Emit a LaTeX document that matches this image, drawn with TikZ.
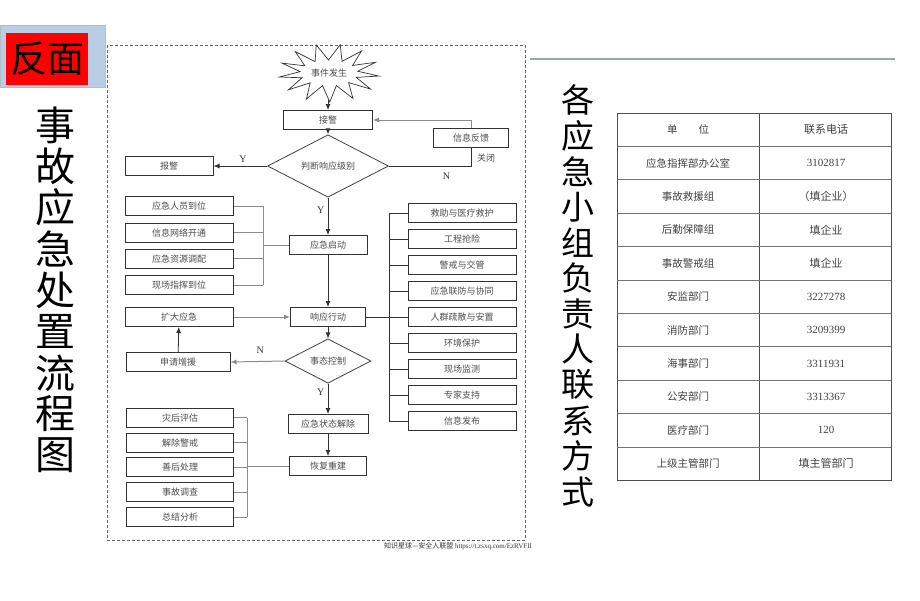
\documentclass[tikz,border=0pt]{standalone}
\usepackage{fontspec}
\setmainfont{Liberation Serif}
\newfontfamily\cjk{Noto Sans CJK SC}
\usetikzlibrary{arrows.meta, positioning, shapes.geometric}

\definecolor{barblue}{HTML}{B9CDE5}
\definecolor{rulegray}{HTML}{9AA89E}

\begin{document}
\begin{tikzpicture}[x=1pt,y=-1pt,>={Latex[length=6pt,width=5pt]},
  box/.style={draw=black!80,line width=1pt,minimum height=19,inner sep=1pt,
    font=\cjk\fontsize{9}{10}\selectfont,text=black!70},
  sbox/.style={box,minimum width=108},
  cbox/.style={box,minimum width=80},
  dec/.style={diamond,draw=black!75,line width=0.8pt,inner sep=0pt,
    font=\cjk\fontsize{9}{10}\selectfont,text=black!70},
  link/.style={draw=black!80,line width=0.8pt},
  glink/.style={draw=black!45,line width=1pt},
  lbl/.style={font=\fontsize{10}{12}\selectfont,text=black!80},
  cell/.style={font=\cjk\fontsize{10.5}{12}\selectfont,text=black!75},
  bigtitle/.style={font=\cjk\fontsize{40}{40}\selectfont,inner sep=0pt}]

\useasboundingbox (0,0) rectangle (920,600);

% 左上角 标题条
\fill[barblue,draw=barblue!70!black!60] (0,25) rectangle (105,87);
\node[fill=red,minimum width=82,minimum height=52,inner sep=0pt,
  font=\cjk\fontsize{37}{37}\selectfont] (fm) at (47,59) {反面};

% 竖排标题
\foreach \c [count=\i] in {事,故,应,急,处,置,流,程,图}
  \node[bigtitle] (tl\i) at (55,{84+41.25*\i}) {\c};
\foreach \c [count=\i] in {各,应,急,小,组,负,责,人,联,系,方,式}
  \node[bigtitle,font=\cjk\fontsize{33}{33}\selectfont] (tr\i) at (578,{64.4+35.6*\i}) {\c};

% 虚线框
\draw[black!60,line width=0.8pt,dash pattern=on 3pt off 2pt] (107,45) rectangle (525,540);

% 右上 横线
\draw[rulegray,line width=2pt] (530,59) -- (895,59);

% 事件发生 (爆炸形)
\draw[black!80,line width=0.7pt] plot[samples at={0,...,25}]
  ({329+ifthenelse(mod(\x,2)==0,50,29)*cos(\x*360/26+6)},
   {73+ifthenelse(mod(\x,2)==0,29,13)*sin(\x*360/26+6)}) -- cycle;
\node[font=\cjk\fontsize{9}{10}\selectfont,text=black!70] (evt) at (329,73) {事件发生};
\coordinate (evtb) at (328,100);

% 主流程
\node[box,minimum width=89] (jj) at (328,120) {接警};
\node[dec,minimum width=121,minimum height=45] (pd) at (328,166) {判断响应级别};
\node[box,minimum width=88] (bj) at (169,166) {报警};
\node[box,minimum width=75] (fk) at (471,138) {信息反馈};
\node[box,minimum width=78] (qd) at (328,245) {应急启动};
\node[box,minimum width=75] (xd) at (328,317) {响应行动};
\node[sbox] (kd) at (179,317) {扩大应急};
\node[dec,minimum width=86,minimum height=40] (kz) at (328,361) {事态控制};
\node[box,minimum width=104] (sq) at (178,362) {申请增援};
\node[cbox] (jc) at (328,424) {应急状态解除};
\node[box,minimum width=77] (hf) at (328,466) {恢复重建};

% 左侧 启动措施
\foreach \t [count=\i] in {应急人员到位,信息网络开通,应急资源调配,现场指挥到位}
  \node[sbox] (L\i) at (179,{180+26.3*\i}) {\t};
% 右侧 响应措施
\foreach \t [count=\i] in {救助与医疗救护,工程抢险,警戒与交管,应急联防与协同,人群疏散与安置,环境保护,现场监测,专家支持,信息发布}
  \node[sbox] (R\i) at (462,{187+26*\i}) {\t};
% 左下 恢复措施
\foreach \t [count=\i] in {灾后评估,解除警戒,善后处理,事故调查,总结分析}
  \node[sbox,minimum width=107] (B\i) at (180,{393+24.8*\i}) {\t};

% 连线
\draw[->,link] (evtb) -- (jj);
\draw[->,link] (jj) -- (pd);
\draw[->,link] (pd.west) -- (bj.east) node[lbl,pos=0.45,above] {Y};
\draw[->,link] (pd.south) -- (qd.north) node[lbl,pos=0.35,left] {Y};
\draw[link] (pd.east) -| (fk.south) node[lbl,pos=0.35,below=3pt] {N};
\node[font=\cjk\fontsize{9}{10}\selectfont,text=black!70] (gb) at (486,158) {关闭};
\draw[->,glink] (fk.north) |- (jj.east);
\draw[->,link] (qd) -- (xd);
\draw[->,glink] (kd) -- (xd);
\draw[->,link] (xd) -- (kz);
\draw[->,glink] (kz.west) -- (sq.east) node[lbl,pos=0.45,above=4pt] {N};
\draw[->,link] (sq) -- (kd);
\draw[->,link] (kz.south) -- (jc.north) node[lbl,pos=0.3,left] {Y};
\draw[->,link] (jc) -- (hf);

% 括号线
\coordinate (brA) at (263,0);
\coordinate (brB) at (389,0);
\coordinate (brC) at (247,0);
\draw[glink] (L1.east -| brA) -- (L4.east -| brA);
\foreach \i in {1,...,4} \draw[glink] (L\i.east) -- (L\i.east -| brA);
\draw[glink] (qd.west) -- (qd.west -| brA);
\draw[link] (R1.west -| brB) -- (R9.west -| brB);
\foreach \i in {1,...,9} \draw[link] (R\i.west -| brB) -- (R\i.west);
\draw[link] (xd.east) -- (xd.east -| brB);
\draw[glink] (B1.east -| brC) -- (B5.east -| brC);
\foreach \i in {1,...,5} \draw[glink] (B\i.east) -- (B\i.east -| brC);
\draw[glink] (hf.west) -- (hf.west -| brC);

% 联系方式表
\draw[black!70,line width=0.8pt] (617,113) rectangle (891,480);
\draw[black!70,line width=0.8pt] (759,113) -- (759,480);
\foreach \i in {1,...,10}
  \draw[black!55,line width=0.8pt] (617,{113+33.4*\i}) -- (891,{113+33.4*\i});
\foreach \a/\b [count=\i] in {单　　位/{\cjk 联系电话},应急指挥部办公室/3102817,
    事故救援组/{\cjk （填企业）},后勤保障组/{\cjk 填企业},事故警戒组/{\cjk 填企业},
    安监部门/3227278,消防部门/3209399,海事部门/3311931,公安部门/3313367,
    医疗部门/120,上级主管部门/{\cjk 填主管部门}}{
  \node[cell] (ua\i) at (688,{96.3+33.4*\i}) {\a};
  \node[cell,font=\fontsize{11}{12}\selectfont] (ub\i) at (826,{96.3+33.4*\i}) {\b};
}

% 水印
\node[font=\fontsize{7}{8}\selectfont,text=black!80] (wm) at (458,546)
  {{\cjk 知识星球—安全人联盟} https://t.zsxq.com/EzRVFII};

\end{tikzpicture}
\end{document}
